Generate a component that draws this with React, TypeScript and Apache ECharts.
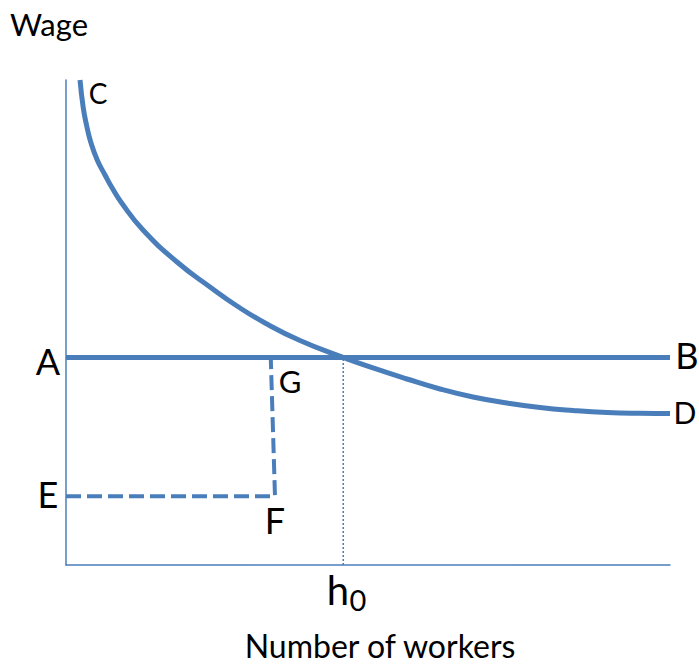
import React, { useEffect, useRef } from "react";
import * as echarts from "echarts";

// Curve C–D (x: number of workers, y: wage)
const curveX = [2.32, 2.86, 3.43, 4.09, 5.17, 6.46, 7.55, 9.22, 12.75, 18.38, 23.84, 28.31, 32.95, 38.74, 45.86, 50.83, 56.46, 61.92, 67.38, 73.01, 78.48, 83.94, 89.57, 95.03, 100];
const curveY = [100, 94.23, 90.52, 87.22, 83.51, 80.41, 77.94, 74.64, 69.07, 62.47, 57.32, 53.4, 49.9, 46.29, 42.8, 40.62, 38.35, 36.29, 34.64, 33.4, 32.47, 31.86, 31.44, 31.28, 31.24];

// Wage line A–B
const wageLevel = 42.8;
const wageLineX = [0, 100];
// Dashed E–F–G path
const dashedX = [0, 34.6, 33.9];
const dashedY = [14.2, 14.2, 42.8];
// h0 point
const h0 = 45.9;

const BLUE = "#4a7ebb";
const FONT = "Lato, 'Open Sans', sans-serif";

export default function App() {
  const ref = useRef<HTMLDivElement>(null);
  useEffect(() => {
    if (!ref.current) return;
    document.body.style.margin = "0";
    const chart = echarts.init(ref.current, undefined, { renderer: "svg" });
    const txt = (text: string, x: number, y: number, size: number, align = "center") => ({
      type: "text",
      x,
      y,
      style: {
        text,
        fill: "#000",
        font: `${size}px ${FONT}`,
        align,
        verticalAlign: "middle",
      },
    });
    chart.setOption({
      animation: false,
      grid: { left: 66, right: 29, top: 80, bottom: 101 },
      xAxis: {
        type: "value",
        min: 0,
        max: 100,
        axisLine: { show: true, onZero: false, lineStyle: { color: BLUE, width: 1.5 } },
        axisTick: { show: false },
        axisLabel: { show: false },
        splitLine: { show: false },
      },
      yAxis: {
        type: "value",
        min: 0,
        max: 100,
        axisLine: { show: true, onZero: false, lineStyle: { color: BLUE, width: 1.5 } },
        axisTick: { show: false },
        axisLabel: { show: false },
        splitLine: { show: false },
      },
      series: [
        {
          type: "line",
          data: curveX.map((x, i) => [x, curveY[i]]),
          smooth: 0.5,
          symbol: "none",
          lineStyle: { color: BLUE, width: 5 },
        },
        {
          type: "line",
          data: wageLineX.map((x) => [x, wageLevel]),
          symbol: "none",
          lineStyle: { color: BLUE, width: 5 },
        },
        {
          type: "line",
          data: dashedX.map((x, i) => [x, dashedY[i]]),
          symbol: "none",
          lineStyle: { color: BLUE, width: 4, type: [15, 6] },
        },
        {
          type: "line",
          data: [[h0, 0], [h0, wageLevel]],
          symbol: "none",
          lineStyle: { color: BLUE, width: 1.5, type: [2, 2] },
        },
      ],
      graphic: [
        txt("Wage", 10, 24, 31, "left"),
        txt("C", 98, 93, 28),
        txt("A", 48, 361, 36),
        txt("G", 290, 381, 31),
        txt("B", 687, 355, 36),
        txt("D", 685, 412, 30),
        txt("E", 48, 494, 36),
        txt("F", 275, 520, 36),
        txt("h", 338, 590, 40),
        txt("0", 358, 599, 29),
        txt("Number of workers", 380, 645, 32),
      ],
    });
    return () => chart.dispose();
  }, []);
  return <div ref={ref} style={{ width: 699, height: 666 }} />;
}
